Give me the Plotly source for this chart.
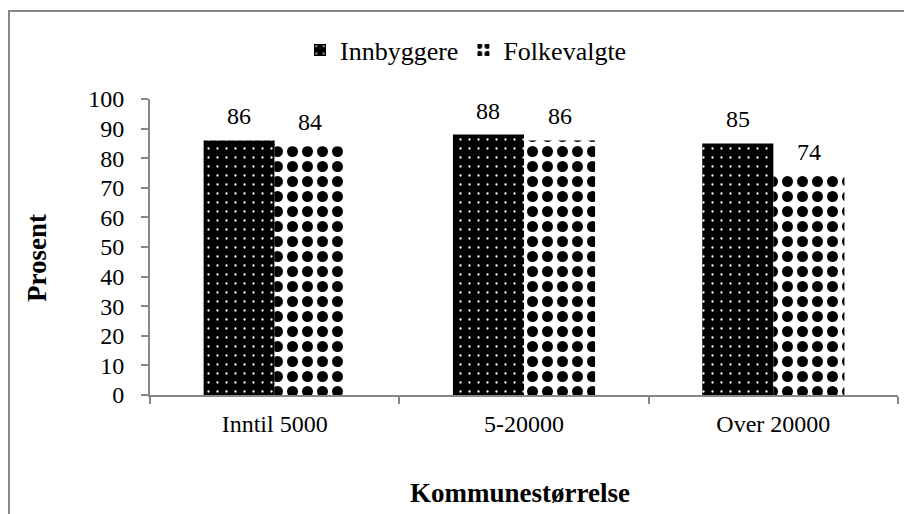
import plotly.graph_objects as go

categories = ["Inntil 5000", "5-20000", "Over 20000"]
innbyggere = [86, 88, 85]
folkevalgte = [84, 86, 74]
y_ticks = [0, 10, 20, 30, 40, 50, 60, 70, 80, 90, 100]

FONT = "Liberation Serif, Times New Roman, serif"
GRAY = "#868686"
FS_TICK = 24
FS_LEG = 26
FS_TITLE = 27

# layout geometry (figure pixels; page adds an 8px body margin)
ML, MR, MT, MB = 142, 22, 91, 127
PW = 912 - ML - MR
PH = 514 - MT - MB


def px_x(x):
    return (x - ML) / PW


def px_y(y):
    return (514 - MB - y) / PH


fig = go.Figure()
fig.add_trace(go.Bar(
    name="Innbyggere", x=categories, y=innbyggere,
    marker=dict(color="black", line=dict(width=0),
                pattern=dict(shape=".", fgcolor="white", bgcolor="black",
                             size=9, solidity=0.05, fillmode="replace")),
))
fig.add_trace(go.Bar(
    name="Folkevalgte", x=categories, y=folkevalgte,
    marker=dict(color="white", line=dict(width=0),
                pattern=dict(shape=".", fgcolor="black", bgcolor="white",
                             size=15, solidity=0.42, fillmode="replace")),
))

bargap = 0.43
bar_w_px = PW / len(categories) * (1 - bargap) / 2
annotations = []
for series, sign in ((innbyggere, -1), (folkevalgte, 1)):
    for cat, val in zip(categories, series):
        annotations.append(dict(
            x=cat, y=val, xref="x", yref="y", text=str(val), showarrow=False,
            xshift=sign * bar_w_px / 2, yshift=9, yanchor="bottom",
            font=dict(family=FONT, size=FS_TICK, color="black")))

annotations.append(dict(
    x=px_x(29), y=px_y(250), xref="paper", yref="paper", text="<b>Prosent</b>",
    textangle=-90, showarrow=False, xanchor="center", yanchor="middle",
    font=dict(family=FONT, size=FS_TITLE, color="black")))
annotations.append(dict(
    x=px_x(512), y=px_y(485), xref="paper", yref="paper", text="<b>Kommunestørrelse</b>",
    showarrow=False, xanchor="center", yanchor="middle",
    font=dict(family=FONT, size=FS_TITLE, color="black")))

fig.update_layout(
    width=912, height=514,
    margin=dict(l=ML, r=MR, t=MT, b=MB, autoexpand=False),
    paper_bgcolor="white", plot_bgcolor="white",
    barmode="group", bargap=bargap, bargroupgap=0,
    font=dict(family=FONT, size=FS_TICK, color="black"),
    showlegend=True,
    legend=dict(orientation="h", x=px_x(458), xanchor="center", y=px_y(42), yanchor="middle",
                bgcolor="rgba(0,0,0,0)",
                font=dict(family=FONT, size=FS_LEG, color="black"),
                itemwidth=30, traceorder="normal"),
    xaxis=dict(showline=True, linecolor=GRAY, linewidth=2, automargin=False,
               ticks="outside", ticklen=7, tickcolor=GRAY, tickwidth=2,
               tickson="boundaries", showgrid=False,
               ticklabelstandoff=6,
               tickfont=dict(family=FONT, size=FS_TICK, color="black")),
    yaxis=dict(range=[0, 100], tickvals=y_ticks, showline=True, linecolor=GRAY, linewidth=2,
               automargin=False,
               ticks="outside", ticklen=7, tickcolor=GRAY, tickwidth=2,
               showgrid=False, zeroline=False, ticklabelstandoff=12,
               tickfont=dict(family=FONT, size=FS_TICK, color="black")),
    annotations=annotations,
    shapes=[dict(type="rect", xref="paper", yref="paper",
                 x0=px_x(1), x1=px_x(930),
                 y0=px_y(530), y1=px_y(3),
                 line=dict(color=GRAY, width=2), fillcolor="rgba(0,0,0,0)", layer="below")],
)

fig.write_html("out.html")
